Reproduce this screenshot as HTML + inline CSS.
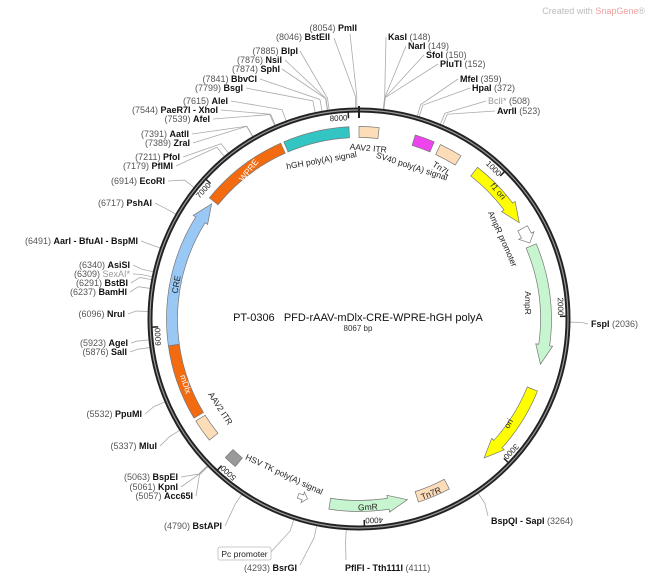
<!DOCTYPE html>
<html><head><meta charset="utf-8"><style>
body{margin:0;background:#fff;}
svg{display:block;font-family:"Liberation Sans",sans-serif;}
.l{font-size:9px;fill:#111;}
.n{font-weight:normal;fill:#555;}
.b{font-weight:bold;}
.f{font-size:8.5px;fill:#222;}
</style></head><body>
<svg id="s" width="650" height="581" viewBox="0 0 650 581" xmlns="http://www.w3.org/2000/svg">
<g id="lines" stroke="#aaa" stroke-width="0.8" fill="none"></g>
<circle cx="359" cy="319" r="209" fill="none" stroke="#222" stroke-width="5"/>
<circle cx="359" cy="319" r="209" fill="none" stroke="#999" stroke-width="1.2"/>
<g id="feat"></g>
<g id="ticks" stroke="#222" stroke-width="1.5"></g>

<text x="645" y="14" text-anchor="end" style="font-size:9px;fill:#bbb">Created with <tspan fill="#f2a0a0">SnapGene</tspan>®</text>

<text x="358" y="321" text-anchor="middle" style="font-size:11px;fill:#111">PT-0306&#160;&#160;&#160;PFD-rAAV-mDlx-CRE-WPRE-hGH polyA</text>
<text x="358" y="331" text-anchor="middle" style="font-size:8px;fill:#333">8067 bp</text>

<g class="l" text-anchor="end">
<text x="357" y="31"><tspan class="n">(8054)</tspan> <tspan class="b">PmlI</tspan></text>
<text x="330" y="40"><tspan class="n">(8046)</tspan> <tspan class="b">BstEII</tspan></text>
<text x="298" y="54"><tspan class="n">(7885)</tspan> <tspan class="b">BlpI</tspan></text>
<text x="282" y="63"><tspan class="n">(7876)</tspan> <tspan class="b">NsiI</tspan></text>
<text x="280" y="72"><tspan class="n">(7874)</tspan> <tspan class="b">SphI</tspan></text>
<text x="257" y="82"><tspan class="n">(7841)</tspan> <tspan class="b">BbvCI</tspan></text>
<text x="243" y="91"><tspan class="n">(7799)</tspan> <tspan class="b">BsgI</tspan></text>
<text x="228" y="104"><tspan class="n">(7615)</tspan> <tspan class="b">AleI</tspan></text>
<text x="218" y="113"><tspan class="n">(7544)</tspan> <tspan class="b">PaeR7I - XhoI</tspan></text>
<text x="210" y="122"><tspan class="n">(7539)</tspan> <tspan class="b">AfeI</tspan></text>
<text x="189" y="137"><tspan class="n">(7391)</tspan> <tspan class="b">AatII</tspan></text>
<text x="190" y="146"><tspan class="n">(7389)</tspan> <tspan class="b">ZraI</tspan></text>
<text x="180" y="160"><tspan class="n">(7211)</tspan> <tspan class="b">PfoI</tspan></text>
<text x="173" y="169"><tspan class="n">(7179)</tspan> <tspan class="b">PflMI</tspan></text>
<text x="165" y="184"><tspan class="n">(6914)</tspan> <tspan class="b">EcoRI</tspan></text>
<text x="152" y="206"><tspan class="n">(6717)</tspan> <tspan class="b">PshAI</tspan></text>
<text x="138" y="244"><tspan class="n">(6491)</tspan> <tspan class="b">AarI - BfuAI - BspMI</tspan></text>
<text x="130" y="268"><tspan class="n">(6340)</tspan> <tspan class="b">AsiSI</tspan></text>
<text x="130" y="277"><tspan class="n">(6309)</tspan> <tspan fill="#999">SexAI*</tspan></text>
<text x="128" y="286"><tspan class="n">(6291)</tspan> <tspan class="b">BstBI</tspan></text>
<text x="127" y="295"><tspan class="n">(6237)</tspan> <tspan class="b">BamHI</tspan></text>
<text x="125" y="317"><tspan class="n">(6096)</tspan> <tspan class="b">NruI</tspan></text>
<text x="128" y="346"><tspan class="n">(5923)</tspan> <tspan class="b">AgeI</tspan></text>
<text x="127" y="355"><tspan class="n">(5876)</tspan> <tspan class="b">SalI</tspan></text>
<text x="142" y="417"><tspan class="n">(5532)</tspan> <tspan class="b">PpuMI</tspan></text>
<text x="157" y="449"><tspan class="n">(5337)</tspan> <tspan class="b">MluI</tspan></text>
<text x="178" y="480"><tspan class="n">(5063)</tspan> <tspan class="b">BspEI</tspan></text>
<text x="178" y="490"><tspan class="n">(5061)</tspan> <tspan class="b">KpnI</tspan></text>
<text x="193" y="499"><tspan class="n">(5057)</tspan> <tspan class="b">Acc65I</tspan></text>
<text x="222" y="529"><tspan class="n">(4790)</tspan> <tspan class="b">BstAPI</tspan></text>
<text x="297" y="571"><tspan class="n">(4293)</tspan> <tspan class="b">BsrGI</tspan></text>
</g>
<g class="l" text-anchor="start">
<text x="388" y="40"><tspan class="b">KasI</tspan> <tspan class="n">(148)</tspan></text>
<text x="408" y="49"><tspan class="b">NarI</tspan> <tspan class="n">(149)</tspan></text>
<text x="426" y="58"><tspan class="b">SfoI</tspan> <tspan class="n">(150)</tspan></text>
<text x="440" y="67"><tspan class="b">PluTI</tspan> <tspan class="n">(152)</tspan></text>
<text x="460" y="82"><tspan class="b">MfeI</tspan> <tspan class="n">(359)</tspan></text>
<text x="472" y="91"><tspan class="b">HpaI</tspan> <tspan class="n">(372)</tspan></text>
<text x="488" y="104"><tspan fill="#999">BclI*</tspan> <tspan class="n">(508)</tspan></text>
<text x="497" y="114"><tspan class="b">AvrII</tspan> <tspan class="n">(523)</tspan></text>
<text x="591" y="327"><tspan class="b">FspI</tspan> <tspan class="n">(2036)</tspan></text>
<text x="491" y="524"><tspan class="b">BspQI - SapI</tspan> <tspan class="n">(3264)</tspan></text>
<text x="345" y="571"><tspan class="b">PflFI - Tth111I</tspan> <tspan class="n">(4111)</tspan></text>
</g>
<rect x="218" y="547" width="53" height="13" rx="2" fill="#fff" stroke="#bbb" stroke-width="0.8"/>
<text x="244.5" y="557" text-anchor="middle" class="f">Pc promoter</text>

<g class="f">
<text transform="translate(251,172) rotate(-52)" text-anchor="middle" style="fill:#fff">WPRE</text>
<text transform="translate(322,163) rotate(-10)" text-anchor="middle">hGH poly(A) signal</text>
<text transform="translate(368,151) rotate(5)" text-anchor="middle">AAV2 ITR</text>
<text transform="translate(411,169) rotate(18)" text-anchor="middle">SV40 poly(A) signal</text>
<text transform="translate(440,171) rotate(32)" text-anchor="middle">Tn7L</text>
<text transform="translate(496,193) rotate(50)" text-anchor="middle">f1 ori</text>
<text transform="translate(500,240) rotate(66)" text-anchor="middle">AmpR promoter</text>
<text transform="translate(525,303) rotate(90)" text-anchor="middle">AmpR</text>
<text transform="translate(511,425) rotate(-60)" text-anchor="middle">ori</text>
<text transform="translate(432,496) rotate(-22)" text-anchor="middle">Tn7R</text>
<text transform="translate(368,510) rotate(-3)" text-anchor="middle">GmR</text>
<text transform="translate(283,477) rotate(25)" text-anchor="middle">HSV TK poly(A) signal</text>
<text transform="translate(218,410) rotate(57)" text-anchor="middle">AAV2 ITR</text>
<text transform="translate(183,385) rotate(72)" text-anchor="middle" style="fill:#fff">mDlx</text>
<text transform="translate(179,285) rotate(-80)" text-anchor="middle">CRE</text>
</g>
<g id="tl" class="f" style="font-size:8px"></g>
</svg>
<script>
var cx=359,cy=319,R=209,NS="http://www.w3.org/2000/svg";
function pt(a,r){a=a*Math.PI/180;return [cx+r*Math.sin(a),cy-r*Math.cos(a)];}
function el(t,at,p){var e=document.createElementNS(NS,t);for(var k in at)e.setAttribute(k,at[k]);document.getElementById(p).appendChild(e);return e;}
function feat(a1,a2,col,arrow,r,w){r=r||187;w=w||11;var ro=r+w/2,ri=r-w/2,d;
 if(!arrow){var o1=pt(a1,ro),o2=pt(a2,ro),i2=pt(a2,ri),i1=pt(a1,ri),sw=a2>a1?1:0,sw2=1-sw;
  d="M"+o1+" A"+ro+","+ro+" 0 0,"+sw+" "+o2+" L"+i2+" A"+ri+","+ri+" 0 0,"+sw2+" "+i1+"Z";}
 else{var dir=a2>a1?1:-1,hl=Math.min(6,Math.abs(a2-a1)*0.5),b=a2-dir*hl,sw=dir>0?1:0,sw2=1-sw;
  d="M"+pt(a1,ro)+" A"+ro+","+ro+" 0 0,"+sw+" "+pt(b,ro)+" L"+pt(b,ro+3)+" L"+pt(a2,r)+" L"+pt(b,ri-3)+" L"+pt(b,ri)+" A"+ri+","+ri+" 0 0,"+sw2+" "+pt(a1,ri)+"Z";}
 el("path",{d:d,fill:col,stroke:"#777","stroke-width":0.7},"feat");}
feat(309,336,"#f26b10");
feat(337,357,"#33c4c4");
feat(0,6,"#fddcb8");
feat(17,23,"#ee44ee");
feat(25,32,"#fddcb8");
feat(38,59,"#ffff00",1);
feat(61,66,"#ffffff",1);
feat(67,104,"#c6f5cf",1);
feat(112,138,"#ffff00",1);
feat(152,162,"#fddcb8");
feat(189,165,"#c6f5cf",1);
feat(199,196,"#ffffff",1,187,5);
feat(220,224,"#999999");
feat(231,238,"#fddcb8");
feat(239,262,"#f26b10");
feat(262,308,"#99c8f5",1);
for(var i=1;i<=8;i++){var a=i*1000/8067*360,p1=pt(a,R-2),p2=pt(a,R-8);el("line",{x1:p1[0],y1:p1[1],x2:p2[0],y2:p2[1]},"ticks");
 var top=(a<=90||a>270),q,t;
 if(top){q=pt(a,R-10);t=el("text",{transform:"translate("+q+") rotate("+a+")","text-anchor":"end",x:-1,y:0},"tl");}
 else{q=pt(a,R-4);t=el("text",{transform:"translate("+q+") rotate("+(a-180)+")","text-anchor":"start",x:1,y:0},"tl");}
 t.textContent=(i*1000);}
var z=pt(0,R);el("line",{x1:z[0],y1:z[1]-4,x2:z[0],y2:z[1]+8,"stroke-width":2},"ticks");
var L=[[8054,350,34],[8046,334,38],[7885,300,51],[7876,285,60],[7874,282,69],[7841,260,79],[7799,246,88],[7615,231,101],[7544,221,110],[7539,213,119],[7391,192,134],[7389,193,143],[7211,183,157],[7179,176,166],[6914,168,181],[6717,155,203],[6491,141,241],[6340,133,265],[6309,133,274],[6291,131,283],[6237,130,292],[6096,128,314],[5923,131,343],[5876,130,352],[5532,145,414],[5337,160,446],[5063,181,477],[5061,181,487],[5057,196,496],[4790,225,526],[4293,300,565],[4200,270,553],
[148,386,37],[149,406,46],[150,424,55],[152,438,64],[359,458,79],[372,470,88],[508,486,101],[523,495,111],[2036,588,324],[3264,488,516],[4111,346,560]];
L.forEach(function(l){var a=l[0]/8067*360;if(l[0]==4200)a=198;var p1=pt(a,R+2),p2=pt(a,R+14);
 el("polyline",{points:p1+" "+p2+" "+l[1]+","+l[2]},"lines");});
</script>
</body></html>
